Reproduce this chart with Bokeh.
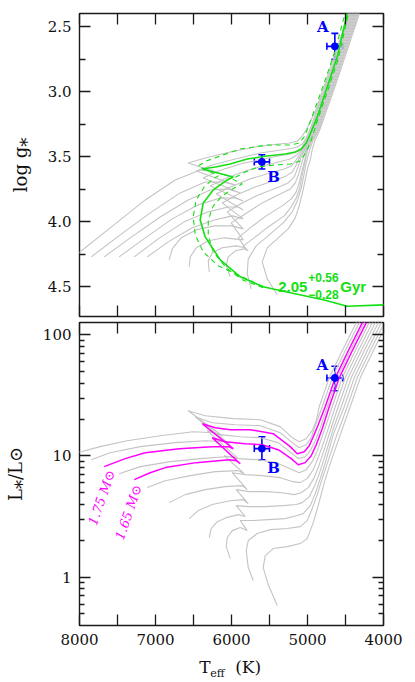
from bokeh.plotting import figure
from bokeh.layouts import column
from bokeh.models import (Range1d, FixedTicker, LinearAxis, LogAxis, ColumnDataSource,
                          Whisker, TeeHead, Label, CustomJSTickFormatter, PrintfTickFormatter)
from bokeh.core.properties import value
from bokeh.embed import file_html
from bokeh.resources import INLINE
import math

# ---------------- ticks ----------------
teff_major = [4000, 5000, 6000, 7000, 8000]
teff_minor = [4500, 5500, 6500, 7500]
logg_major = [2.5, 3.0, 3.5, 4.0, 4.5]
logg_minor = [2.75, 3.25, 3.75, 4.25]
lum_major = [1, 10, 100]
lum_minor = [0.5, 0.6, 0.7, 0.8, 0.9, 2, 3, 4, 5, 6, 7, 8, 9, 20, 30, 40, 50, 60, 70, 80, 90]

# ---------------- HR diagram tracks (Teff [K], log L/Lsun) ----------------
hr_teff_1 = [8122, 7728, 7372, 6938, 6504, 6227, 6122, 6570, 6346, 5977, 5622, 5359, 5201, 5109, 5017, 4938, 4885, 4846, 4714, 4543, 4359, 4306]
hr_logL_1 = [1.011, 1.077, 1.126, 1.167, 1.200, 1.192, 1.167, 1.373, 1.332, 1.308, 1.299, 1.242, 1.151, 1.118, 1.143, 1.209, 1.291, 1.406, 1.645, 1.868, 2.099, 2.165]
hr_teff_2 = [7846, 7596, 7201, 6741, 6346, 6083, 6017, 6477, 6254, 5951, 5622, 5359, 5201, 5109, 5017, 4951, 4898, 4806, 4675, 4504, 4319, 4267]
hr_logL_2 = [0.969, 1.027, 1.077, 1.110, 1.126, 1.118, 1.093, 1.324, 1.274, 1.258, 1.250, 1.192, 1.110, 1.068, 1.093, 1.151, 1.250, 1.406, 1.645, 1.868, 2.099, 2.165]
hr_teff_3 = [7675, 7399, 7135, 6688, 6254, 6043, 5977, 6385, 6214, 6017, 5754, 5451, 5227, 5135, 5043, 4977, 4924, 4859, 4767, 4635, 4464, 4280, 4227]
hr_logL_3 = [0.912, 0.978, 1.027, 1.060, 1.077, 1.077, 1.060, 1.266, 1.233, 1.217, 1.217, 1.184, 1.077, 1.019, 1.035, 1.085, 1.159, 1.258, 1.406, 1.645, 1.868, 2.099, 2.165]
hr_teff_4 = [7478, 7201, 6806, 6412, 6083, 5964, 5911, 6319, 6148, 5885, 5622, 5385, 5214, 5122, 5030, 4964, 4898, 4832, 4740, 4609, 4438, 4254, 4201]
hr_logL_4 = [0.854, 0.912, 0.953, 0.978, 0.994, 0.994, 0.978, 1.209, 1.176, 1.159, 1.151, 1.110, 1.027, 0.978, 0.994, 1.044, 1.126, 1.233, 1.406, 1.645, 1.868, 2.099, 2.165]
hr_teff_5 = [7280, 7070, 6872, 6464, 6030, 5938, 5885, 6254, 6083, 5819, 5596, 5385, 5214, 5122, 5030, 4951, 4885, 4806, 4714, 4582, 4411, 4227, 4175]
hr_logL_5 = [0.805, 0.862, 0.904, 0.945, 0.969, 0.961, 0.936, 1.151, 1.118, 1.101, 1.093, 1.052, 0.978, 0.928, 0.945, 1.002, 1.093, 1.225, 1.406, 1.645, 1.868, 2.099, 2.165]
hr_teff_6 = [7109, 6872, 6543, 6214, 5911, 5833, 6096, 5911, 5648, 5411, 5227, 5109, 5017, 4938, 4872, 4793, 4675, 4543, 4372, 4188, 4135]
hr_logL_6 = [0.739, 0.796, 0.838, 0.871, 0.879, 0.854, 1.002, 0.978, 0.969, 0.945, 0.895, 0.862, 0.887, 0.953, 1.044, 1.184, 1.406, 1.645, 1.868, 2.099, 2.165]
hr_teff_7 = [6820, 6609, 6346, 6083, 5859, 5793, 5990, 5819, 5596, 5359, 5188, 5096, 5004, 4924, 4859, 4780, 4714, 4635, 4504, 4332, 4148, 4096]
hr_logL_7 = [0.615, 0.681, 0.722, 0.747, 0.755, 0.722, 0.862, 0.846, 0.838, 0.821, 0.788, 0.780, 0.813, 0.887, 0.986, 1.126, 1.250, 1.406, 1.645, 1.868, 2.099, 2.165]
hr_teff_8 = [6556, 6438, 6254, 6017, 5846, 5780, 5938, 5767, 5543, 5332, 5175, 5082, 4990, 4911, 4846, 4767, 4688, 4596, 4464, 4293, 4109, 4056]
hr_logL_8 = [0.483, 0.549, 0.599, 0.631, 0.640, 0.607, 0.722, 0.706, 0.706, 0.697, 0.681, 0.697, 0.739, 0.821, 0.928, 1.077, 1.233, 1.406, 1.645, 1.868, 2.099, 2.165]
hr_teff_9 = [6293, 6267, 6188, 6069, 5911, 5819, 5938, 5780, 5556, 5319, 5148, 5069, 4977, 4898, 4832, 4753, 4661, 4556, 4425, 4254, 4069, 4017]
hr_logL_9 = [0.327, 0.401, 0.458, 0.491, 0.516, 0.500, 0.590, 0.582, 0.582, 0.590, 0.599, 0.615, 0.664, 0.763, 0.879, 1.035, 1.225, 1.406, 1.645, 1.868, 2.099, 2.165]
hr_teff_10 = [6017, 6069, 6056, 5990, 5885, 5793, 5885, 5727, 5517, 5293, 5135, 5056, 4964, 4898, 4832, 4753, 4661, 4517, 4385, 4214, 4030, 3977]
hr_logL_10 = [0.153, 0.252, 0.327, 0.384, 0.409, 0.384, 0.467, 0.467, 0.475, 0.483, 0.508, 0.524, 0.590, 0.689, 0.813, 0.969, 1.176, 1.406, 1.645, 1.868, 2.099, 2.165]
hr_teff_11 = [5714, 5780, 5806, 5780, 5661, 5490, 5267, 5096, 5004, 4938, 4872, 4806, 4727, 4622, 4477, 4346, 4175, 3990, 3938]
hr_logL_11 = [-0.028, 0.079, 0.219, 0.302, 0.360, 0.392, 0.401, 0.417, 0.467, 0.566, 0.681, 0.813, 0.961, 1.159, 1.406, 1.645, 1.868, 2.099, 2.165]
hr_teff_12 = [5398, 5517, 5583, 5556, 5451, 5267, 5096, 5004, 4924, 4859, 4780, 4688, 4582, 4438, 4306, 4135, 3951, 3898]
hr_logL_12 = [-0.234, -0.061, 0.079, 0.178, 0.236, 0.252, 0.277, 0.318, 0.450, 0.590, 0.780, 0.961, 1.151, 1.406, 1.645, 1.868, 2.099, 2.165]

# ---------------- Kiel diagram tracks (Teff [K], log g) ----------------
kl_teff_1 = [8057, 7596, 7135, 6741, 6412, 6214, 6043, 6570, 6346, 6017, 5688, 5385, 5227, 5135, 5069, 5017, 4891, 4767, 4635, 4569, 4504, 4464, 4438]
kl_logg_1 = [4.264, 4.048, 3.833, 3.679, 3.602, 3.618, 3.648, 3.548, 3.510, 3.464, 3.425, 3.402, 3.395, 3.379, 3.341, 3.295, 3.141, 2.933, 2.702, 2.587, 2.472, 2.395, 2.341]
kl_teff_2 = [7846, 7464, 7070, 6675, 6346, 6122, 5951, 6464, 6254, 5951, 5622, 5346, 5214, 5135, 5069, 5017, 4970, 4878, 4753, 4622, 4556, 4490, 4451, 4425]
kl_logg_2 = [4.272, 4.102, 3.933, 3.779, 3.695, 3.695, 3.718, 3.610, 3.564, 3.518, 3.471, 3.448, 3.437, 3.425, 3.402, 3.356, 3.295, 3.141, 2.933, 2.702, 2.587, 2.472, 2.395, 2.341]
kl_teff_3 = [7675, 7333, 6938, 6570, 6280, 6043, 5885, 6372, 6175, 5885, 5583, 5346, 5227, 5161, 5115, 5089, 5043, 5004, 4957, 4865, 4740, 4609, 4543, 4477, 4438, 4411]
kl_logg_3 = [4.272, 4.125, 3.964, 3.833, 3.756, 3.748, 3.779, 3.664, 3.610, 3.556, 3.518, 3.491, 3.479, 3.468, 3.456, 3.448, 3.395, 3.348, 3.295, 3.141, 2.933, 2.702, 2.587, 2.472, 2.395, 2.341]
kl_teff_4 = [7478, 7135, 6780, 6438, 6148, 5951, 5846, 6280, 6096, 5819, 5543, 5332, 5227, 5161, 5115, 5076, 5023, 4984, 4944, 4852, 4727, 4596, 4530, 4464, 4425, 4398]
kl_logg_4 = [4.272, 4.125, 3.979, 3.871, 3.818, 3.818, 3.841, 3.725, 3.671, 3.610, 3.564, 3.533, 3.518, 3.495, 3.471, 3.448, 3.395, 3.348, 3.295, 3.141, 2.933, 2.702, 2.587, 2.472, 2.395, 2.341]
kl_teff_5 = [7280, 6964, 6622, 6306, 6043, 5911, 5846, 6201, 6017, 5754, 5490, 5306, 5214, 5148, 5109, 5063, 5010, 4931, 4839, 4714, 4582, 4517, 4451, 4411, 4385]
kl_logg_5 = [4.272, 4.133, 4.002, 3.925, 3.887, 3.887, 3.910, 3.787, 3.733, 3.671, 3.625, 3.595, 3.572, 3.525, 3.487, 3.448, 3.379, 3.295, 3.141, 2.933, 2.702, 2.587, 2.472, 2.395, 2.341]
kl_teff_6 = [7109, 6833, 6517, 6227, 5990, 5846, 6122, 5938, 5688, 5451, 5280, 5201, 5148, 5102, 5049, 4997, 4918, 4826, 4701, 4569, 4504, 4438, 4398, 4372]
kl_logg_6 = [4.272, 4.156, 4.048, 3.987, 3.956, 3.979, 3.856, 3.795, 3.733, 3.687, 3.648, 3.618, 3.564, 3.502, 3.448, 3.379, 3.295, 3.141, 2.933, 2.702, 2.587, 2.472, 2.395, 2.341]
kl_teff_7 = [6820, 6780, 6662, 6464, 6227, 5990, 5846, 6056, 5885, 5648, 5411, 5254, 5175, 5129, 5089, 5036, 4984, 4905, 4813, 4688, 4556, 4490, 4425, 4385, 4359]
kl_logg_7 = [4.295, 4.210, 4.125, 4.064, 4.033, 4.033, 4.056, 3.925, 3.864, 3.795, 3.741, 3.702, 3.656, 3.587, 3.510, 3.448, 3.379, 3.295, 3.141, 2.933, 2.702, 2.587, 2.472, 2.395, 2.341]
kl_teff_8 = [6556, 6543, 6464, 6306, 6096, 5846, 6004, 5819, 5596, 5359, 5227, 5161, 5115, 5076, 5023, 4970, 4891, 4799, 4675, 4543, 4477, 4411, 4372, 4346]
kl_logg_8 = [4.349, 4.272, 4.202, 4.148, 4.125, 4.141, 4.010, 3.941, 3.856, 3.787, 3.748, 3.702, 3.633, 3.548, 3.448, 3.379, 3.295, 3.141, 2.933, 2.702, 2.587, 2.472, 2.395, 2.341]
kl_teff_9 = [6293, 6306, 6254, 6122, 5938, 5819, 5911, 5754, 5543, 5332, 5214, 5148, 5109, 5069, 5036, 5010, 4957, 4878, 4786, 4661, 4530, 4464, 4398, 4359, 4332]
kl_logg_9 = [4.387, 4.302, 4.241, 4.202, 4.187, 4.202, 4.125, 4.048, 3.956, 3.879, 3.825, 3.771, 3.702, 3.602, 3.525, 3.448, 3.379, 3.295, 3.141, 2.933, 2.702, 2.587, 2.472, 2.395, 2.341]
kl_teff_10 = [6017, 6069, 6043, 5951, 5833, 5780, 5846, 5701, 5517, 5306, 5214, 5148, 5102, 5069, 5036, 4997, 4944, 4865, 4773, 4648, 4517, 4451, 4385, 4346, 4319]
kl_logg_10 = [4.425, 4.341, 4.272, 4.225, 4.210, 4.225, 4.187, 4.125, 4.041, 3.956, 3.887, 3.818, 3.741, 3.641, 3.548, 3.448, 3.379, 3.295, 3.141, 2.933, 2.702, 2.587, 2.472, 2.395, 2.341]
kl_teff_11 = [5740, 5793, 5780, 5675, 5504, 5319, 5201, 5129, 5082, 5049, 5017, 4970, 4931, 4852, 4760, 4635, 4504, 4438, 4372, 4332, 4306]
kl_logg_11 = [4.518, 4.402, 4.287, 4.187, 4.102, 4.010, 3.925, 3.833, 3.741, 3.648, 3.548, 3.448, 3.379, 3.295, 3.141, 2.933, 2.702, 2.587, 2.472, 2.395, 2.341]
kl_teff_12 = [5398, 5530, 5596, 5530, 5385, 5254, 5161, 5109, 5063, 5030, 4997, 4964, 4938, 4905, 4839, 4747, 4622, 4490, 4425, 4359, 4319, 4293]
kl_logg_12 = [4.564, 4.441, 4.310, 4.202, 4.125, 4.056, 3.971, 3.879, 3.771, 3.679, 3.587, 3.525, 3.448, 3.379, 3.295, 3.141, 2.933, 2.702, 2.587, 2.472, 2.395, 2.341]

# ---------------- best isochrone (2.05 Gyr) and its +/- bounds ----------------
iso_teff = [3977, 4477, 4793, 5227, 5583, 5885, 6148, 6346, 6412, 6372, 6240, 6056, 5977, 6385, 6214, 6017, 5793, 5530, 5293, 5161, 5082, 5017, 4964, 4872, 4740, 4609, 4477, 4451]
iso_logg = [4.641, 4.652, 4.602, 4.548, 4.502, 4.425, 4.295, 4.118, 3.987, 3.856, 3.756, 3.679, 3.656, 3.595, 3.579, 3.556, 3.518, 3.495, 3.479, 3.464, 3.441, 3.395, 3.325, 3.195, 2.964, 2.733, 2.395, 2.341]
iso_young_teff = [5583, 5885, 6175, 6372, 6477, 6504, 6464, 6359, 6240, 6175, 6438, 6332, 6148, 5885, 5530, 5227, 5109, 5043, 4990, 4898, 4767, 4635, 4504, 4477]
iso_young_logg = [4.502, 4.418, 4.341, 4.233, 4.102, 3.964, 3.833, 3.733, 3.671, 3.648, 3.572, 3.533, 3.495, 3.441, 3.410, 3.410, 3.395, 3.348, 3.272, 3.125, 2.910, 2.679, 2.395, 2.341]
iso_old_teff = [5583, 5859, 6069, 6240, 6306, 6306, 6240, 6122, 5964, 5859, 5990, 5819, 5648, 5425, 5227, 5096, 5017, 4951, 4859, 4727, 4596, 4464, 4438]
iso_old_logg = [4.510, 4.448, 4.356, 4.233, 4.110, 3.987, 3.879, 3.802, 3.741, 3.710, 3.671, 3.618, 3.579, 3.564, 3.556, 3.533, 3.464, 3.372, 3.202, 2.979, 2.748, 2.402, 2.341]

# ---------------- stars A and B ----------------
star_names = ["A", "B"]
star_teff = [4640, 5600]
star_teff_err = [105, 100]
star_logg = [2.65, 3.54]
star_logg_err = [0.10, 0.055]
star_lum = [44.0, 11.5]
star_lum_hi = [55.0, 14.4]
star_lum_lo = [34.5, 9.3]
name_teff_top = [4800, 5447]
name_logg_top = [2.504, 3.656]
name_teff_bot = [4806, 5447]
name_lum_bot = [56.0, 7.93]

# ---------------- annotations ----------------
mass_texts = ["1.75 M\u2299", "1.65 M\u2299"]
mass_teff = [7708, 7355]
mass_lum = [4.53, 3.43]
age_text = ["2.05", "+0.56", "\u22120.28", "Gyr"]
age_teff = [5385, 4990, 4990, 4569]
age_logg = [4.502, 4.433, 4.564, 4.502]
xtitle_parts = ["T", "eff", "(K)"]
xtitle_teff = [6425, 6280, 5951]
xtitle_pos = [0.52, 0.28, 0.52]

# ---------------- styling ----------------
INK = "#1a1a1a"
GRAY = "#c4c4c4"
GREEN = "#12e012"
MAGENTA = "#ff00ff"
BLUE = "#0000ff"
SERIF = "DejaVu Serif"
W = 407
LEFT = 79
RIGHT = W - LEFT - 304


def style_axis(ax, ticker, labels, minor_len, fmt="%d"):
    ax.ticker = ticker
    ax.axis_line_color = None
    ax.major_tick_in = 11
    ax.major_tick_out = 0
    ax.minor_tick_in = minor_len
    ax.minor_tick_out = 0
    ax.major_tick_line_color = INK
    ax.minor_tick_line_color = INK
    ax.major_tick_line_width = 1.3
    ax.minor_tick_line_width = 1.3
    if labels:
        ax.formatter = PrintfTickFormatter(format=fmt)
        ax.major_label_text_font = SERIF
        ax.major_label_text_font_size = "15px"
        ax.major_label_text_color = "#111111"
        ax.major_label_standoff = 8
    else:
        ax.formatter = CustomJSTickFormatter(code="return ''")
        ax.major_label_text_font_size = "0px"
        ax.major_label_standoff = 0


def style_fig(p):
    p.outline_line_color = INK
    p.outline_line_width = 1.4
    p.xgrid.visible = False
    p.ygrid.visible = False
    p.background_fill_color = "white"
    p.border_fill_color = "white"


def style_ylabel(ax, text):
    ax.axis_label = text
    ax.axis_label_text_font = SERIF
    ax.axis_label_text_font_style = "normal"
    ax.axis_label_text_font_size = "18px"
    ax.axis_label_text_color = "#111111"
    ax.axis_label_standoff = 14


xticker = FixedTicker(ticks=teff_major, minor_ticks=teff_minor)

# ================= top panel: log g vs Teff =================
top = figure(width=W, height=318, x_range=Range1d(8000, 4000), y_range=Range1d(4.731, 2.397),
             output_backend="svg", toolbar_location=None,
             min_border_left=LEFT, min_border_right=RIGHT, min_border_top=13, min_border_bottom=2)
style_fig(top)
gticker = FixedTicker(ticks=logg_major, minor_ticks=logg_minor)
style_axis(top.xaxis[0], xticker, False, 11)
style_axis(top.yaxis[0], gticker, True, 6, "%.1f")
style_ylabel(top.yaxis[0], "log g\u204e")
ax_r = LinearAxis()
style_axis(ax_r, gticker, False, 6)
top.add_layout(ax_r, "right")
ax_t = LinearAxis()
style_axis(ax_t, xticker, False, 11)
top.add_layout(ax_t, "above")

kl_tracks = [(kl_teff_1, kl_logg_1), (kl_teff_2, kl_logg_2), (kl_teff_3, kl_logg_3),
             (kl_teff_4, kl_logg_4), (kl_teff_5, kl_logg_5), (kl_teff_6, kl_logg_6),
             (kl_teff_7, kl_logg_7), (kl_teff_8, kl_logg_8), (kl_teff_9, kl_logg_9),
             (kl_teff_10, kl_logg_10), (kl_teff_11, kl_logg_11), (kl_teff_12, kl_logg_12)]
top.multi_line(xs=[t[0] for t in kl_tracks], ys=[t[1] for t in kl_tracks],
               line_color=GRAY, line_width=1.1)
top.multi_line(xs=[iso_young_teff, iso_old_teff], ys=[iso_young_logg, iso_old_logg],
               line_color=GREEN, line_width=1.1, line_dash="5 4")
top.line(iso_teff, iso_logg, line_color=GREEN, line_width=1.6)

src_top = ColumnDataSource(dict(
    teff=star_teff, logg=star_logg,
    t_lo=[t - e for t, e in zip(star_teff, star_teff_err)],
    t_hi=[t + e for t, e in zip(star_teff, star_teff_err)],
    g_lo=[g - e for g, e in zip(star_logg, star_logg_err)],
    g_hi=[g + e for g, e in zip(star_logg, star_logg_err)]))


def add_errbars(p, src, xcol, ycol, xlo, xhi, ylo, yhi):
    for base, lo, hi, dim in [(xcol, ylo, yhi, "height"), (ycol, xlo, xhi, "width")]:
        w = Whisker(source=src, base=base, lower=lo, upper=hi, dimension=dim,
                    line_color=BLUE, line_width=1.6,
                    upper_head=TeeHead(size=7, line_color=BLUE, line_width=1.6),
                    lower_head=TeeHead(size=7, line_color=BLUE, line_width=1.6))
        p.add_layout(w)
    p.scatter(xcol, ycol, source=src, size=7, color=BLUE)


add_errbars(top, src_top, "teff", "logg", "t_lo", "t_hi", "g_lo", "g_hi")
for n, x, y in zip(star_names, name_teff_top, name_logg_top):
    top.add_layout(Label(x=x, y=y, text=n, text_font=SERIF, text_font_style="bold",
                         text_font_size="15px", text_color=BLUE,
                         text_align="center", text_baseline="middle"))

age_sizes = ["15px", "12px", "12px", "15px"]
for t, x, y, s in zip(age_text, age_teff, age_logg, age_sizes):
    top.add_layout(Label(x=x, y=y, text=t, text_font="Liberation Sans", text_font_style="bold",
                         text_font_size=s, text_color=GREEN,
                         text_align="left", text_baseline="alphabetic"))

# ================= bottom panel: L vs Teff =================
bot = figure(width=W, height=336, x_range=Range1d(8000, 4000), y_range=Range1d(0.399, 126.3),
             y_axis_type="log", output_backend="svg", toolbar_location=None,
             min_border_left=LEFT, min_border_right=RIGHT, min_border_top=4, min_border_bottom=29)
style_fig(bot)
lticker = FixedTicker(ticks=lum_major, minor_ticks=lum_minor)
style_axis(bot.xaxis[0], xticker, True, 11, "%d")
style_axis(bot.yaxis[0], lticker, True, 5, "%d")
style_ylabel(bot.yaxis[0], "L\u204e/L\u2299")
bx_r = LogAxis()
style_axis(bx_r, lticker, False, 5)
bot.add_layout(bx_r, "right")
bx_t = LinearAxis()
style_axis(bx_t, xticker, False, 11)
bot.add_layout(bx_t, "above")

hr_gray = [(hr_teff_1, hr_logL_1), (hr_teff_2, hr_logL_2), (hr_teff_4, hr_logL_4),
           (hr_teff_6, hr_logL_6), (hr_teff_7, hr_logL_7), (hr_teff_8, hr_logL_8),
           (hr_teff_9, hr_logL_9), (hr_teff_10, hr_logL_10), (hr_teff_11, hr_logL_11),
           (hr_teff_12, hr_logL_12)]
hr_mag = [(hr_teff_3, hr_logL_3), (hr_teff_5, hr_logL_5)]
bot.multi_line(xs=[t[0] for t in hr_gray], ys=[[10 ** v for v in t[1]] for t in hr_gray],
               line_color=GRAY, line_width=1.1)
bot.multi_line(xs=[t[0] for t in hr_mag], ys=[[10 ** v for v in t[1]] for t in hr_mag],
               line_color=MAGENTA, line_width=1.5)

src_bot = ColumnDataSource(dict(
    teff=star_teff, lum=star_lum,
    t_lo=[t - e for t, e in zip(star_teff, star_teff_err)],
    t_hi=[t + e for t, e in zip(star_teff, star_teff_err)],
    l_lo=star_lum_lo, l_hi=star_lum_hi))
add_errbars(bot, src_bot, "teff", "lum", "t_lo", "t_hi", "l_lo", "l_hi")
for n, x, y in zip(star_names, name_teff_bot, name_lum_bot):
    bot.add_layout(Label(x=x, y=y, text=n, text_font=SERIF, text_font_style="bold",
                         text_font_size="15px", text_color=BLUE,
                         text_align="center", text_baseline="middle"))

for t, x, y in zip(mass_texts, mass_teff, mass_lum):
    bot.add_layout(Label(x=x, y=y, text=t, text_font=SERIF, text_font_style="italic",
                         text_font_size="13px", text_color=MAGENTA, angle=math.radians(71),
                         text_align="center", text_baseline="middle"))

# ================= x-axis title strip: T_eff (K) =================
cap = figure(width=W, height=26, x_range=Range1d(8000, 4000), y_range=Range1d(0, 1),
             output_backend="svg", toolbar_location=None,
             x_axis_location=None, y_axis_location=None,
             min_border_left=LEFT, min_border_right=RIGHT, min_border_top=0, min_border_bottom=0)
cap.outline_line_color = None
cap.xgrid.visible = False
cap.ygrid.visible = False
cap_sizes = ["17px", "11px", "17px"]
for t, x, y, s in zip(xtitle_parts, xtitle_teff, xtitle_pos, cap_sizes):
    cap.text(x=[x], y=[y], text=[t], text_font=value(SERIF), text_font_size=value(s),
             text_color="#111111", text_align="left", text_baseline="alphabetic")

layout = column(top, bot, cap)
open("out.html", "w").write(file_html(layout, INLINE))
